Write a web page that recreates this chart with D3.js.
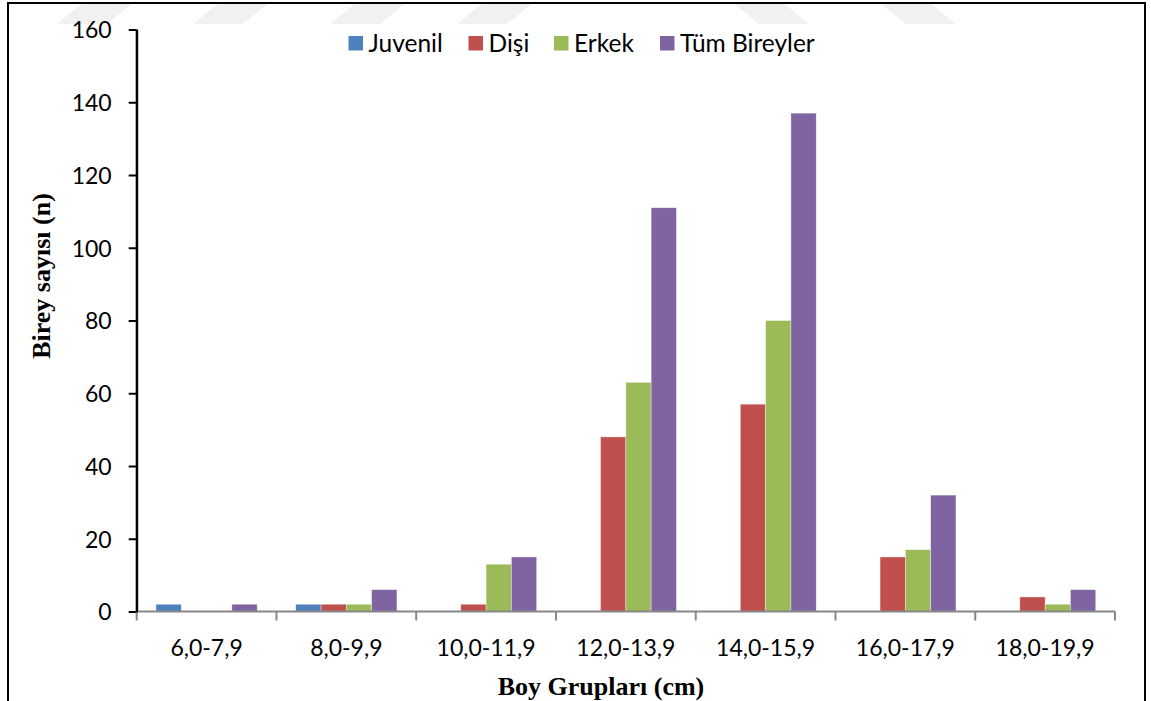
<!DOCTYPE html>
<html>
<head>
<meta charset="utf-8">
<script src="https://cdn.jsdelivr.net/npm/d3@7"></script>
<style>
  html, body { margin: 0; padding: 0; background: #fff; }
  svg { display: block; }
  .tick-label { font-family: Lato, "Open Sans", sans-serif; font-size: 23px; fill: #000; }
  .legend-label { font-family: Lato, "Open Sans", sans-serif; font-size: 24.5px; fill: #000; }
  .axis-title { font-family: "Liberation Serif", "Times New Roman", serif; font-weight: bold; font-size: 26px; fill: #000; }
</style>
</head>
<body>
<svg id="chart" width="1151" height="701"></svg>
<script>
// Length groups (cm) and counts per group
const categories = ["6,0-7,9", "8,0-9,9", "10,0-11,9", "12,0-13,9", "14,0-15,9", "16,0-17,9", "18,0-19,9"];
const seriesNames = ["Juvenil", "Dişi", "Erkek", "Tüm Bireyler"];
const juvenil = [2, 2, 0, 0, 0, 0, 0];
const disi    = [0, 2, 2, 48, 57, 15, 4];
const erkek   = [0, 2, 13, 63, 80, 17, 2];
const tum     = [2, 6, 15, 111, 137, 32, 6];
const yTicks  = [0, 20, 40, 60, 80, 100, 120, 140, 160];
const colors  = ["#4F81BD", "#C0504D", "#9BBB59", "#8064A2"];

const seriesValues = [juvenil, disi, erkek, tum];
const rows = categories.map((c, i) => ({
  cat: c,
  vals: seriesNames.map((s, k) => ({ key: s, value: seriesValues[k][i], color: colors[k] }))
}));

const svg = d3.select("#chart");

// faint background emblem strips along the top edge
const stripsRight = [57, 193, 330, 457];
const stripsLeft = [733, 880];
const wm = svg.append("g").attr("fill", "#f1f1f1");
stripsRight.forEach(x0 => {
  wm.append("polygon").attr("points", `${x0},24 ${x0 + 50},24 ${x0 + 76},3 ${x0 + 26},3`);
});
stripsLeft.forEach(x0 => {
  wm.append("polygon").attr("points", `${x0},3 ${x0 + 50},3 ${x0 + 76},24 ${x0 + 26},24`);
});

// outer frame
svg.append("rect")
  .attr("x", 8).attr("y", 3)
  .attr("width", 1137).attr("height", 720)
  .attr("fill", "none").attr("stroke", "#000").attr("stroke-width", 2);

const plot = { left: 136.7, right: 1115, top: 29.5, bottom: 611.5 };

const x0 = d3.scaleBand().domain(categories).range([plot.left, plot.right]).padding(0);
const x1 = d3.scaleBand().domain(seriesNames).range([0, x0.bandwidth()])
  .paddingInner(0).paddingOuter(0.762);
const y = d3.scaleLinear().domain([0, 160]).range([plot.bottom, plot.top]);

// bars
const groups = svg.append("g").selectAll("g").data(rows).join("g")
  .attr("transform", d => `translate(${x0(d.cat)},0)`);
groups.selectAll("rect").data(d => d.vals.filter(v => v.value > 0)).join("rect")
  .attr("x", d => x1(d.key))
  .attr("width", x1.bandwidth())
  .attr("y", d => y(d.value))
  .attr("height", d => y(0) - y(d.value))
  .attr("fill", d => d.color)
  .attr("stroke", "#ffffff")
  .attr("stroke-opacity", 0.6)
  .attr("stroke-width", 0.6);

// y axis
const yAxis = svg.append("g")
  .attr("transform", `translate(${plot.left},0)`)
  .call(d3.axisLeft(y).tickValues(yTicks).tickSize(8).tickSizeOuter(0).tickFormat(d3.format("d")));
yAxis.select(".domain").attr("stroke", "#000").attr("stroke-width", 2);
yAxis.selectAll(".tick line").attr("stroke", "#000").attr("stroke-width", 2);
yAxis.selectAll(".tick text")
  .attr("class", "tick-label")
  .attr("x", -25)
  .attr("dy", "0.36em")
  .attr("font-family", null).attr("font-size", null);

// x axis: category separators as ticks
const xAxisG = svg.append("g").attr("transform", `translate(0,${plot.bottom})`);
xAxisG.append("line")
  .attr("x1", plot.left).attr("x2", plot.right)
  .attr("stroke", "#878787").attr("stroke-width", 2);
const boundaries = categories.map(c => x0(c)).concat([x0(categories[categories.length - 1]) + x0.bandwidth()]);
xAxisG.selectAll("line.sep").data(boundaries).join("line")
  .attr("class", "sep")
  .attr("x1", d => d).attr("x2", d => d)
  .attr("y1", 0).attr("y2", 9)
  .attr("stroke", "#878787").attr("stroke-width", 2);
xAxisG.selectAll("text").data(categories).join("text")
  .attr("class", "tick-label")
  .attr("x", d => x0(d) + x0.bandwidth() / 2)
  .attr("y", 44)
  .attr("text-anchor", "middle")
  .text(d => d);

// y axis line drawn over the start of the x axis
svg.append("line")
  .attr("x1", plot.left).attr("x2", plot.left)
  .attr("y1", plot.top).attr("y2", plot.bottom + 1)
  .attr("stroke", "#000").attr("stroke-width", 2);

// axis titles
svg.append("text")
  .attr("class", "axis-title")
  .attr("x", 601).attr("y", 695)
  .attr("text-anchor", "middle")
  .text("Boy Grupları (cm)");
svg.append("text")
  .attr("class", "axis-title")
  .attr("transform", "translate(50,276) rotate(-90)")
  .attr("text-anchor", "middle")
  .text("Birey sayısı (n)");

// legend
const legendX = [348.5, 468.5, 554, 660];
const legend = svg.append("g");
seriesNames.forEach((s, k) => {
  legend.append("rect")
    .attr("x", legendX[k]).attr("y", 36)
    .attr("width", 14.5).attr("height", 14.5)
    .attr("fill", colors[k]);
  legend.append("text")
    .attr("class", "legend-label")
    .attr("x", legendX[k] + 20).attr("y", 51.5)
    .text(s);
});
</script>
</body>
</html>
